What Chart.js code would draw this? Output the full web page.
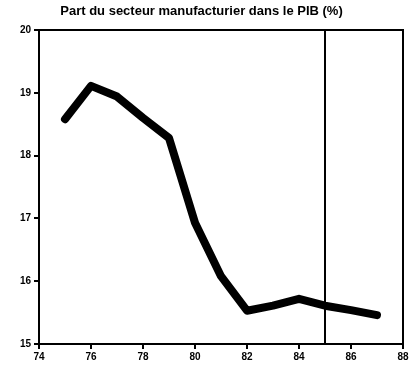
<!DOCTYPE html>
<html><head><meta charset="utf-8">
<script src="https://cdn.jsdelivr.net/npm/chart.js@4"></script>
<style>html,body{margin:0;padding:0;background:#fff}#w{width:417px;height:370px}</style>
</head><body><div id="w"><canvas id="c"></canvas></div>
<script>
const years = [75,76,77,78,79,80,81,82,83,84,85,86,87];
const share = [18.58,19.11,18.94,18.6,18.28,16.93,16.08,15.53,15.61,15.72,15.61,15.54,15.46];
const xTicks = [74,76,78,80,82,84,86,88];
const yTicks = [15,16,17,18,19,20];
const markerYear = 85;
const titleText = 'Part du secteur manufacturier dans le PIB (%)';

const frame = {id:'frame', afterDatasetsDraw(ch){const a=ch.chartArea,c=ch.ctx;c.save();c.strokeStyle='#000';c.lineWidth=2;c.strokeRect(a.left,a.top,a.right-a.left,a.bottom-a.top);c.restore();}};
new Chart(document.getElementById('c'),{
 type:'line',
 data:{datasets:[
  {data:years.map((y,i)=>({x:y,y:share[i]})),borderColor:'#000',borderWidth:8,pointRadius:0,tension:0,borderJoinStyle:'round',borderCapStyle:'round'},
  {data:[{x:markerYear,y:yTicks[0]},{x:markerYear,y:yTicks[yTicks.length-1]}],borderColor:'#000',borderWidth:2,pointRadius:0}
 ]},
 options:{responsive:true,maintainAspectRatio:false,animation:false,
  layout:{padding:{left:0,right:14,top:0,bottom:0}},
  plugins:{legend:{display:false},tooltip:{enabled:false},
   title:{display:true,text:titleText,color:'#000',font:{family:'Liberation Sans',size:13,weight:'bold'},padding:{top:4,bottom:10.4}}},
  scales:{
   x:{type:'linear',min:xTicks[0],max:xTicks[xTicks.length-1],
    afterBuildTicks(ax){ax.ticks=xTicks.map(v=>({value:v}));},
    afterFit(ax){ax.height=26;},
    grid:{drawOnChartArea:false,color:'#000',lineWidth:2,tickLength:5},
    border:{color:'#000',width:2},
    ticks:{color:'#000',font:{family:'Liberation Sans',size:10,weight:'bold'},padding:2,maxRotation:0}},
   y:{min:yTicks[0],max:yTicks[yTicks.length-1],
    afterBuildTicks(ax){ax.ticks=yTicks.map(v=>({value:v}));},
    afterFit(ax){ax.width=39;},
    grid:{drawOnChartArea:false,color:'#000',lineWidth:2,tickLength:5},
    border:{color:'#000',width:2},
    ticks:{color:'#000',font:{family:'Liberation Sans',size:10,weight:'bold'},padding:3}}
  }},
 plugins:[frame]
});
</script></body></html>
